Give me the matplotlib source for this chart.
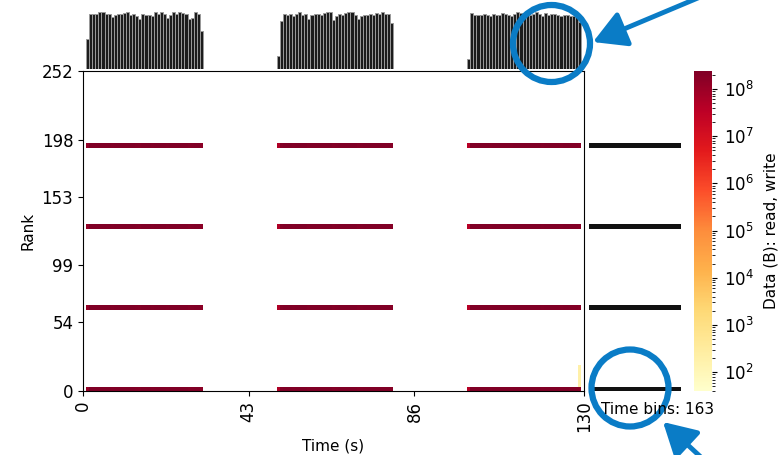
import numpy as np
import matplotlib
matplotlib.use('Agg')
import matplotlib.pyplot as plt
from matplotlib.colors import LogNorm
from matplotlib.patches import Circle, FancyArrowPatch

# run layout
duration_s = 130
n_bins = 163
n_ranks = 252
io_ranks = [0, 1, 2, 3, 64, 65, 66, 67, 128, 129, 130, 131, 192, 193, 194, 195]

# bytes per I/O rank in each time bin, units of 1e8 B, one list per burst
burst1_start = 1
burst1 = [1.27, 2.30, 2.30, 2.33, 2.40, 2.38, 2.33, 2.30, 2.18, 2.26, 2.30, 2.33, 2.35,
          2.38, 2.26, 2.30, 2.21, 2.09, 2.30, 2.28, 2.26, 2.23, 2.40, 2.30, 2.38, 2.33,
          2.14, 2.28, 2.38, 2.33, 2.40, 2.35, 2.30, 2.11, 2.16, 2.38, 2.30, 1.61]
burst2_start = 63
burst2 = [0.53, 2.04, 2.30, 2.28, 2.33, 2.23, 2.30, 2.38, 2.28, 2.30, 2.11, 2.28, 2.30,
          2.30, 2.28, 2.35, 2.38, 2.40, 2.06, 2.21, 2.33, 2.26, 2.35, 2.38, 2.38, 2.26,
          2.09, 2.21, 2.28, 2.26, 2.33, 2.28, 2.35, 2.30, 2.38, 2.33, 2.30, 1.92]
burst3_start = 125
burst3 = [0.41, 2.35, 2.26, 2.28, 2.26, 2.30, 2.28, 2.23, 2.33, 2.28, 2.26, 2.35, 2.30,
          2.26, 2.23, 2.33, 2.38, 2.35, 2.28, 2.30, 2.26, 2.33, 2.38, 2.30, 2.23, 2.35,
          2.28, 2.33, 2.30, 2.28, 2.23, 2.28, 2.26, 2.21, 2.23, 2.18, 1.97]

# small trailing writes from the low ranks in the last active bin
tail_bin = 161
tail_ranks = list(range(4, 21))
tail_bytes = 200

# assemble rank x time matrix (bytes)
data = np.zeros((n_ranks, n_bins))
for start, vals in [(burst1_start, burst1), (burst2_start, burst2), (burst3_start, burst3)]:
    for i, v in enumerate(vals):
        data[io_ranks, start + i] = v * 1e8
data[tail_ranks, tail_bin] = tail_bytes

per_bin = data.sum(axis=0)
per_rank = data.sum(axis=1)

t_edges = np.linspace(0, duration_s, n_bins + 1)
r_edges = np.arange(n_ranks + 1) - 0.5
t_width = t_edges[1] - t_edges[0]

fig = plt.figure(figsize=(7.78, 4.55), dpi=100)
ax = fig.add_axes([0.1067, 0.1407, 0.644, 0.7033])
ax_top = fig.add_axes([0.1067, 0.8484, 0.644, 0.1253])
ax_right = fig.add_axes([0.7571, 0.1407, 0.1195, 0.7033])
cax = fig.add_axes([0.892, 0.1407, 0.0231, 0.7033])

norm = LogNorm(vmin=40, vmax=2.4e8)
mesh = ax.pcolormesh(t_edges, r_edges, np.ma.masked_equal(data, 0),
                     cmap='YlOrRd', norm=norm)
ax.set_xlim(0, duration_s)
ax.set_ylim(0, 252)
ax.set_xticks([0, 43, 86, 130])
ax.set_xticklabels(['0', '43', '86', '130'], rotation=90, fontsize=12)
ax.set_yticks([0, 54, 99, 153, 198, 252])
ax.set_yticklabels(['0', '54', '99', '153', '198', '252'], fontsize=12)
ax.set_xlabel('Time (s)', fontsize=11)
ax.set_ylabel('Rank', fontsize=11)

# total bytes per time bin
ax_top.bar(t_edges[:-1], per_bin, width=t_width, align='edge',
           color='#1c1c1c', edgecolor='#9a9a9a', linewidth=0.7)
ax_top.set_xlim(0, duration_s)
ax_top.set_ylim(0, per_bin.max())
ax_top.axis('off')

# total bytes per rank
ax_right.barh(np.arange(n_ranks), per_rank, height=1.0, color='#111111', linewidth=0)
ax_right.set_ylim(0, 252)
ax_right.set_xlim(0, per_rank.max() * 1.01)
ax_right.axis('off')
fig.text(0.773, 0.099, f'Time bins: {n_bins}', fontsize=11, va='center')

cbar = fig.colorbar(mesh, cax=cax)
cbar.outline.set_visible(False)
cbar.ax.tick_params(labelsize=12, pad=5)
cbar.set_label('Data (B): read, write', fontsize=11, labelpad=7)

# highlight marks
blue = '#0a7cc6'
for cx, cy in [(5.515, 4.115), (6.30, 0.67)]:
    fig.add_artist(Circle((cx, cy), 0.385, fill=False, lw=4.5, ec=blue,
                          transform=fig.dpi_scale_trans))
for tail, tip in [((7.05, 4.60), (5.93, 4.13)), ((7.04, -0.05), (6.63, 0.33))]:
    fig.add_artist(FancyArrowPatch(tail, tip, arrowstyle='-|>,head_length=0.8,head_width=0.45',
                                   mutation_scale=25, lw=3.5, color=blue,
                                   shrinkA=0, shrinkB=0,
                                   transform=fig.dpi_scale_trans))

fig.savefig('out.png', dpi=100)
